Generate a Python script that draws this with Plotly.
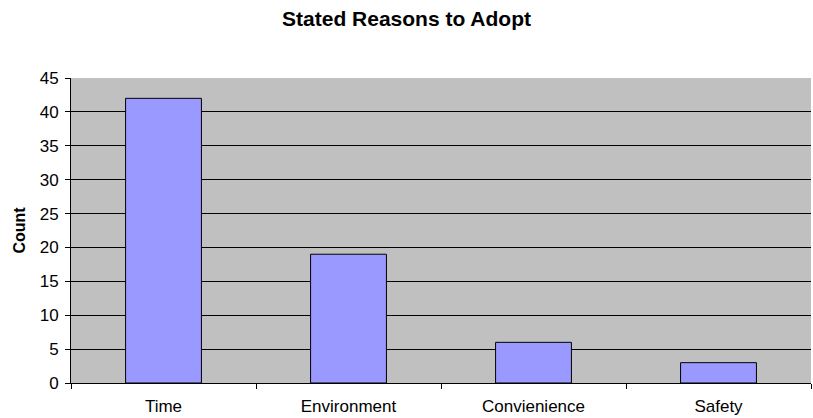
import plotly.graph_objects as go

categories = ["Time", "Environment", "Convienience", "Safety"]
counts = [42, 19, 6, 3]
y_ticks = [0, 5, 10, 15, 20, 25, 30, 35, 40, 45]

FONT = "Liberation Sans, Arial, sans-serif"

fig = go.Figure(go.Bar(
    x=categories, y=counts, width=0.41,
    marker=dict(color="#9999FF", line=dict(color="black", width=1)),
))

fig.update_layout(
    width=813, height=418,
    margin=dict(l=71, r=2, t=78, b=35),
    paper_bgcolor="white", plot_bgcolor="#C0C0C0",
    font=dict(family=FONT, size=17, color="black"),
    showlegend=False,
    title=dict(text="<b>Stated Reasons to Adopt</b>", x=0.5, xanchor="center",
               y=1 - 19 / 418, yanchor="middle",
               font=dict(family=FONT, size=21, color="black")),
)
fig.update_xaxes(
    type="category", showline=True, linecolor="black", linewidth=1,
    ticks="outside", ticklen=5, tickcolor="black", tickson="boundaries",
    showgrid=False, tickfont=dict(size=17), ticklabelstandoff=8,
    automargin=False,
)
fig.update_yaxes(
    range=[0, 45], tickvals=y_ticks, showline=True, linecolor="black", linewidth=1,
    ticks="outside", ticklen=5, tickcolor="black",
    showgrid=True, gridcolor="black", gridwidth=1, zeroline=False,
    tickfont=dict(size=17), ticklabelstandoff=3, automargin=False,
    title=dict(text="<b>Count</b>", font=dict(size=16), standoff=10),
)

fig.write_html("out.html")
